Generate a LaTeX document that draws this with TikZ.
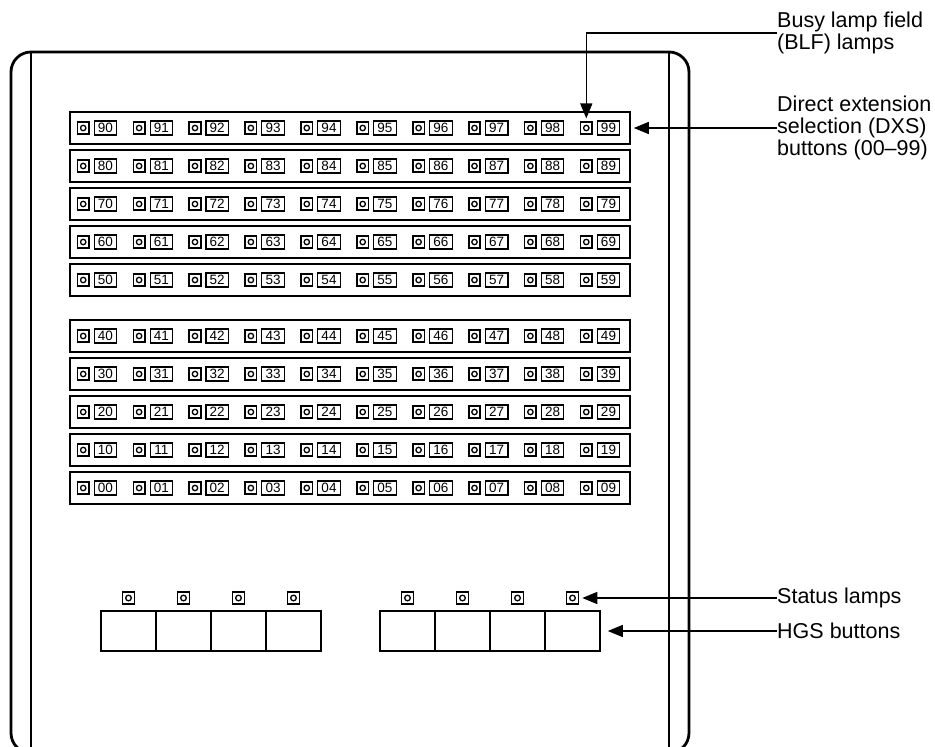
\documentclass[tikz,border=0pt]{standalone}
\usepackage{fontspec}
\setmainfont{Liberation Sans}
\usetikzlibrary{arrows.meta}
\begin{document}
\begin{tikzpicture}[x=1pt,y=-1pt,
  lampbox/.style={draw, line width=1.6pt, minimum size=11.5pt, inner sep=0pt},
  numbox/.style={draw, line width=1.1pt, minimum width=22.5pt, minimum height=14pt, inner sep=0pt, font=\fontsize{13.5}{14}\selectfont},
  rowbox/.style={draw, line width=1.6pt, minimum width=560pt, minimum height=32pt, inner sep=0pt},
  hgsbox/.style={draw, line width=1.6pt, minimum width=55pt, minimum height=40pt, inner sep=0pt},
  slamp/.style={draw, line width=1.6pt, minimum size=12pt, inner sep=0pt},
  calltext/.style={align=left, inner sep=0pt, font=\fontsize{21.5}{22}\selectfont},
  leader/.style={line width=1.4pt, -{Triangle[length=15pt,width=12pt]}}
]
\useasboundingbox (0,0) rectangle (935,747);
% housing
\begin{scope}
  \clip (0,0) rectangle (935,747);
  \draw[line width=2.8pt, rounded corners=20pt] (11,753) -- (11,52) -- (689,52) -- (689,753) -- cycle;
\end{scope}
\draw[line width=1.2pt] (31,52) -- (31,747);
\draw[line width=1.2pt] (669,52) -- (669,747);
% DXS rows
\foreach \tn [count=\k from 0] in {9,8,7,6,5,4,3,2,1,0} {
  \pgfmathsetmacro\ry{\k<5 ? 128+38*\k : 336+38*(\k-5)}
  \node[rowbox] (r\tn) at (350,\ry) {};
  \foreach \un in {0,...,9} {
    \node[lampbox] (l\tn\un) at ({83.2+55.9*\un},\ry) {};
    \draw[line width=1.3pt] (l\tn\un.center) circle (2.7);
    \node[numbox] (b\tn\un) at ({105.4+55.9*\un},\ry) {\tn\un};
  }
}
% status lamps and HGS buttons
\foreach \i/\x in {1/128.5,2/183.5,3/238.5,4/293.5,5/407.5,6/462.5,7/517.5,8/572.5} {
  \node[slamp] (sl\i) at (\x,598) {};
  \draw[line width=1.3pt] (sl\i.center) circle (2.8);
  \node[hgsbox] (hb\i) at (\x,631) {};
}
% callouts
\node[calltext, anchor=west] (blf) at (777,33) {Busy lamp field\\(BLF) lamps};
\node[calltext, anchor=west] (dxs) at (777,128) {Direct extension\\selection (DXS)\\buttons (00–99)};
\node[calltext, anchor=west] (stl) at (777,598) {Status lamps};
\node[calltext, anchor=west] (hgs) at (777,631) {HGS buttons};
\draw[leader, shorten >=3pt] (blf.west) -| (l99.north);
\draw[leader, shorten >=3pt] (dxs.west |- r9.east) -- (r9.east);
\draw[leader, shorten >=3pt] (sl8.east -| stl.west) -- (sl8.east);
\draw[leader, shorten >=7pt] (hb8.east -| hgs.west) -- (hb8.east);
\end{tikzpicture}
\end{document}
